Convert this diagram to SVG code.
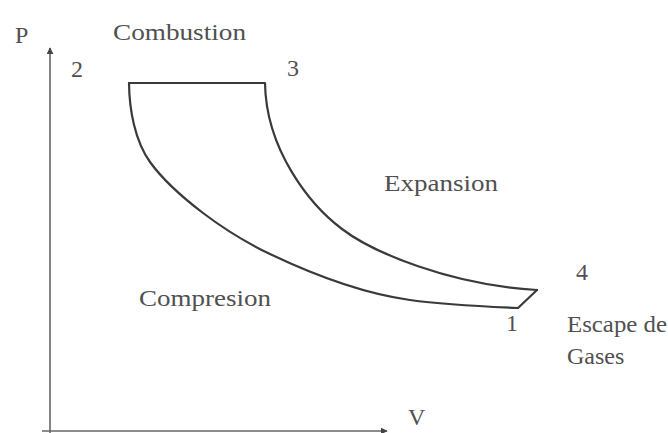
<svg xmlns="http://www.w3.org/2000/svg" width="668" height="433" viewBox="0 0 668 433">
<style>
.lbl{font-family:"Liberation Serif","Times New Roman",serif;font-size:24px;fill:#505050}
.cyc{fill:none;stroke:#3a3a3a;stroke-width:2.2;stroke-linejoin:round;stroke-linecap:round}
.ax{stroke:#666;stroke-width:1.6;fill:none}
</style>
<defs>
<marker id="ah" viewBox="0 0 10 10" refX="9" refY="5" markerWidth="7" markerHeight="7" markerUnits="userSpaceOnUse" orient="auto">
<path d="M0,0 L10,5 L0,10 z" fill="#444"/>
</marker>
</defs>
<rect width="668" height="433" fill="#fff"/>
<g id="axes">
<line class="ax" x1="50" y1="433" x2="50" y2="48" marker-end="url(#ah)"/>
<line class="ax" x1="42" y1="431" x2="387" y2="431" marker-end="url(#ah)"/>
</g>
<g id="cycle">
<path id="compression" class="cyc" d="M129,83 C129.3,110 135,141 150,162 C164,181.5 184,198.5 203,213 C224,229 247,243 270,254 C314,275 362,293.3 410,300 C446,305 482,306.5 518,308 L537,290"/>
<path id="expansion" class="cyc" d="M129,83 L265,83 C266,150 310,205 342,229 C372,252 450,285 537,290"/>
</g>
<g id="labels">
<text class="lbl" x="15" y="43">P</text>
<text class="lbl" x="113" y="40" textLength="133" lengthAdjust="spacingAndGlyphs">Combustion</text>
<text class="lbl" x="71" y="77">2</text>
<text class="lbl" x="287" y="76">3</text>
<text class="lbl" x="384" y="191" textLength="114" lengthAdjust="spacingAndGlyphs">Expansion</text>
<text class="lbl" x="576" y="280">4</text>
<text class="lbl" x="139" y="306" textLength="132" lengthAdjust="spacingAndGlyphs">Compresion</text>
<text class="lbl" x="506" y="331">1</text>
<text class="lbl" x="567" y="332" textLength="100" lengthAdjust="spacingAndGlyphs">Escape de</text>
<text class="lbl" x="567" y="364">Gases</text>
<text class="lbl" x="408" y="425">V</text>
</g>
</svg>
